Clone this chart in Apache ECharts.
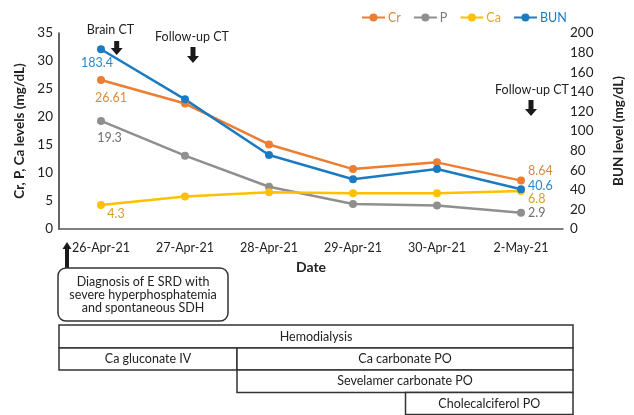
<!DOCTYPE html>
<html>
<head>
<meta charset="utf-8">
<script src="https://cdn.jsdelivr.net/npm/echarts@6/dist/echarts.min.js"></script>
<style>html,body{margin:0;padding:0;background:#fff}#c{width:634px;height:415px}</style>
</head>
<body>
<div id="c"></div>
<script>
const categories = ['26-Apr-21','27-Apr-21','28-Apr-21','29-Apr-21','30-Apr-21','2-May-21'];
const crValues  = [26.61, 22.4, 15.1, 10.7, 11.9, 8.64];
const pValues   = [19.3, 13.1, 7.55, 4.46, 4.2, 2.9];
const caValues  = [4.3, 5.8, 6.55, 6.4, 6.4, 6.8];
const bunValues = [183.4, 132.3, 75.5, 50.7, 61.2, 40.6];
const leftTicks = {min: 0, max: 35, interval: 5};
const rightTicks = {min: 0, max: 200, interval: 20};

const FONT = "Lato, 'DejaVu Sans Condensed', sans-serif";
const TXT = '#222';
const LBL = 12.5;

function seriesData(vals, labelColor, firstOff, lastOff) {
  return vals.map((v, i) => {
    if (i === 0) {
      return {value: v, label: {show: true, position: 'inside', offset: firstOff,
        color: labelColor, fontSize: LBL, fontFamily: FONT}};
    }
    if (i === vals.length - 1) {
      return {value: v, label: {show: true, position: 'right', distance: 3, offset: lastOff,
        color: labelColor, fontSize: LBL, fontFamily: FONT}};
    }
    return v;
  });
}
function mkSeries(name, vals, color, labelColor, yIndex, firstOff, lastOff) {
  return {
    name, type: 'line', yAxisIndex: yIndex, data: seriesData(vals, labelColor, firstOff, lastOff),
    symbol: 'circle', symbolSize: 8, itemStyle: {color}, lineStyle: {color, width: 2.5},
    label: {show: false}, emphasis: {disabled: true}, z: 3
  };
}
function downArrow(cx, top, bottom, sw, hw, hh) {
  return {type: 'polygon', shape: {points: [[cx-sw/2, top],[cx+sw/2, top],[cx+sw/2, bottom-hh],[cx+hw/2, bottom-hh],[cx, bottom],[cx-hw/2, bottom-hh],[cx-sw/2, bottom-hh]]},
    style: {fill: '#1a1a1a'}};
}
function upArrow(cx, top, bottom, sw, hw, hh) {
  return {type: 'polygon', shape: {points: [[cx-sw/2, bottom],[cx+sw/2, bottom],[cx+sw/2, top+hh],[cx+hw/2, top+hh],[cx, top],[cx-hw/2, top+hh],[cx-sw/2, top+hh]]},
    style: {fill: '#1a1a1a'}};
}
function txt(x, y, text, size, extra) {
  return {type: 'text', x, y, style: Object.assign({text, fill: TXT, font: (size||12.5) + 'px ' + FONT, align: 'center', verticalAlign: 'middle'}, extra||{})};
}
function box(x, y, w, h, label) {
  return [
    {type: 'rect', shape: {x, y, width: w, height: h}, style: {fill: '#fff', stroke: '#333', lineWidth: 1.5}},
    txt(x + w/2, y + h/2, label, 12.5)
  ];
}

const chart = echarts.init(document.getElementById('c'));
chart.setOption({
  animation: false,
  textStyle: {fontFamily: FONT},
  grid: {left: 59, right: 61, top: 33, bottom: 186},
  legend: {
    left: 356, top: 6, itemWidth: 23, itemHeight: 10, itemGap: 12,
    textStyle: {fontSize: 12.5, fontFamily: FONT, padding: [0,0,0,-2]},
    data: [
      {name: 'Cr', textStyle: {color: '#E0853A'}},
      {name: 'P', textStyle: {color: '#7a7a7a'}},
      {name: 'Ca', textStyle: {color: '#E0A820'}},
      {name: 'BUN', textStyle: {color: '#1B7BC2'}}
    ]
  },
  xAxis: {
    type: 'category', data: categories, boundaryGap: true,
    axisLine: {lineStyle: {color: '#555', width: 1.5}}, axisTick: {show: false},
    axisLabel: {color: TXT, fontSize: 12.5, margin: 12, fontFamily: FONT},
    name: 'Date', nameLocation: 'middle', nameGap: 31,
    nameTextStyle: {color: TXT, fontSize: 14, fontWeight: 'bold', fontFamily: FONT}
  },
  yAxis: [
    {type: 'value', min: leftTicks.min, max: leftTicks.max, interval: leftTicks.interval,
      axisLine: {show: true, lineStyle: {color: '#333', width: 1.5}}, axisTick: {show: false}, splitLine: {show: false},
      axisLabel: {color: TXT, fontSize: 13.5, margin: 6, fontFamily: FONT},
      name: 'Cr, P, Ca levels (mg/dL)', nameLocation: 'middle', nameGap: 21,
      nameTextStyle: {color: TXT, fontSize: 13.5, fontWeight: 'bold', fontFamily: FONT}},
    {type: 'value', min: rightTicks.min, max: rightTicks.max, interval: rightTicks.interval, position: 'right',
      axisLine: {show: false}, axisTick: {show: false}, splitLine: {show: false},
      axisLabel: {color: TXT, fontSize: 13.5, margin: 7, fontFamily: FONT},
      name: 'BUN level (mg/dL)', nameLocation: 'middle', nameGap: 49,
      nameTextStyle: {color: TXT, fontSize: 13.5, fontWeight: 'bold', fontFamily: FONT}}
  ],
  series: [
    mkSeries('Cr', crValues, '#ED7D31', '#DC8A3E', 0, [10, 18], [0, -10]),
    mkSeries('P', pValues, '#8F8F8F', '#6f6f6f', 0, [8.5, 17], [0, 0]),
    mkSeries('Ca', caValues, '#FFC000', '#D4A02C', 0, [15, 9], [0, 8]),
    mkSeries('BUN', bunValues, '#1B7BC2', '#2B88C8', 1, [-4, 14], [0, -3])
  ],
  graphic: [
    txt(110.5, 30, 'Brain CT'),
    downArrow(116.7, 41, 55, 5, 12, 7),
    txt(192, 37, 'Follow-up CT'),
    downArrow(193, 47, 63, 5, 12, 7),
    txt(532, 90, 'Follow-up CT'),
    downArrow(531, 100, 116, 5, 12, 7),
    upArrow(67, 242, 268, 4, 9, 7),
    {type: 'rect', shape: {x: 58, y: 268, width: 170, height: 53, r: 8}, style: {fill: '#fff', stroke: '#333', lineWidth: 1.5}},
    txt(143, 294.5, 'Diagnosis of E SRD with\nsevere hyperphosphatemia\nand spontaneous SDH', 12.5, {lineHeight: 13}),
    ...box(59, 325, 514, 23, 'Hemodialysis'),
    ...box(59, 348, 178, 22, 'Ca gluconate IV'),
    ...box(237, 348, 336, 22, 'Ca carbonate PO'),
    ...box(237, 370, 336, 22.5, 'Sevelamer carbonate PO'),
    ...box(405.5, 392.5, 167.5, 22, 'Cholecalciferol PO')
  ]
});
</script>
</body>
</html>
